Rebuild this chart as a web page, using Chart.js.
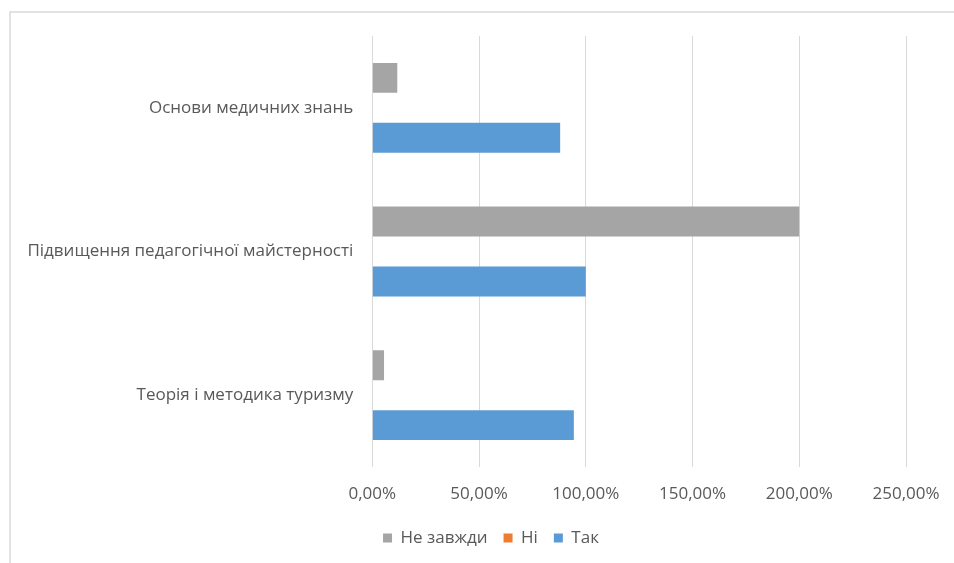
<!DOCTYPE html>
<html>
<head>
<meta charset="utf-8">
<script src="https://cdn.jsdelivr.net/npm/chart.js@4/dist/chart.umd.min.js"></script>
<style>
  html, body { margin: 0; padding: 0; background: #ffffff; }
  #wrap { width: 954px; height: 563px; position: relative; }
</style>
</head>
<body>
<div id="wrap"><canvas id="c" width="954" height="563"></canvas></div>
<script>
const categories = ["Основи медичних знань", "Підвищення педагогічної майстерності", "Теорія і методика туризму"];
const seriesNames = ["Не завжди", "Ні", "Так"];
const neZavzhdy = [11.7, 200, 5.5];
const ni = [0, 0, 0];
const tak = [88, 100, 94.4];
const tickValues = [0, 50, 100, 150, 200, 250];

const FONT = "'Open Sans', 'Noto Sans', sans-serif";

const framePlugin = {
  id: 'frame',
  beforeDraw(chart) {
    const ctx = chart.ctx;
    ctx.save();
    ctx.strokeStyle = '#d9d9d9';
    ctx.lineWidth = 1.5;
    ctx.beginPath();
    ctx.moveTo(10, 600);
    ctx.lineTo(10, 12);
    ctx.lineTo(1000, 12);
    ctx.stroke();
    ctx.restore();
  }
};

// shift legend so it is centred where the reference has it
const legendShift = {
  id: 'legendShift',
  afterLayout(chart) {
    if (chart.legend) { chart.legend.left = 76; }
  }
};

new Chart(document.getElementById('c'), {
  type: 'bar',
  data: {
    labels: categories,
    datasets: [
      { label: seriesNames[0], data: neZavzhdy, backgroundColor: '#a5a5a5', borderWidth: 0 },
      { label: seriesNames[1], data: ni, backgroundColor: '#ed7d31', borderWidth: 0 },
      { label: seriesNames[2], data: tak, backgroundColor: '#5b9bd5', borderWidth: 0 }
    ]
  },
  options: {
    indexAxis: 'y',
    responsive: false,
    animation: false,
    devicePixelRatio: 1,
    categoryPercentage: 0.625,
    barPercentage: 1.0,
    layout: { padding: { left: 0, right: 48, top: 36, bottom: 6.5 } },
    plugins: {
      legend: {
        position: 'bottom',
        align: 'center',
        labels: {
          font: { family: FONT, size: 17, lineHeight: 1.0 },
          color: '#595959',
          boxWidth: 9,
          boxHeight: 9,
          padding: 16
        }
      },
      tooltip: { enabled: false }
    },
    scales: {
      x: {
        min: 0,
        max: 250,
        afterBuildTicks(axis) { axis.ticks = tickValues.map(v => ({ value: v })); },
        afterFit(axis) { axis.height = 46.5; axis.paddingRight = 0; axis.paddingLeft = 0; },
        grid: { color: '#d9d9d9', lineWidth: 1, drawTicks: false },
        border: { display: false },
        ticks: {
          font: { family: FONT, size: 17 },
          color: '#595959',
          padding: 17,
          maxRotation: 0,
          callback: (v) => Number(v).toFixed(2).replace('.', ',') + '%'
        }
      },
      y: {
        afterFit(axis) { axis.width = 372.3; },
        grid: { display: false, drawTicks: false },
        border: { display: false },
        ticks: {
          font: { family: FONT, size: 17 },
          color: '#595959',
          padding: 19
        }
      }
    }
  },
  plugins: [framePlugin, legendShift]
});
</script>
</body>
</html>
